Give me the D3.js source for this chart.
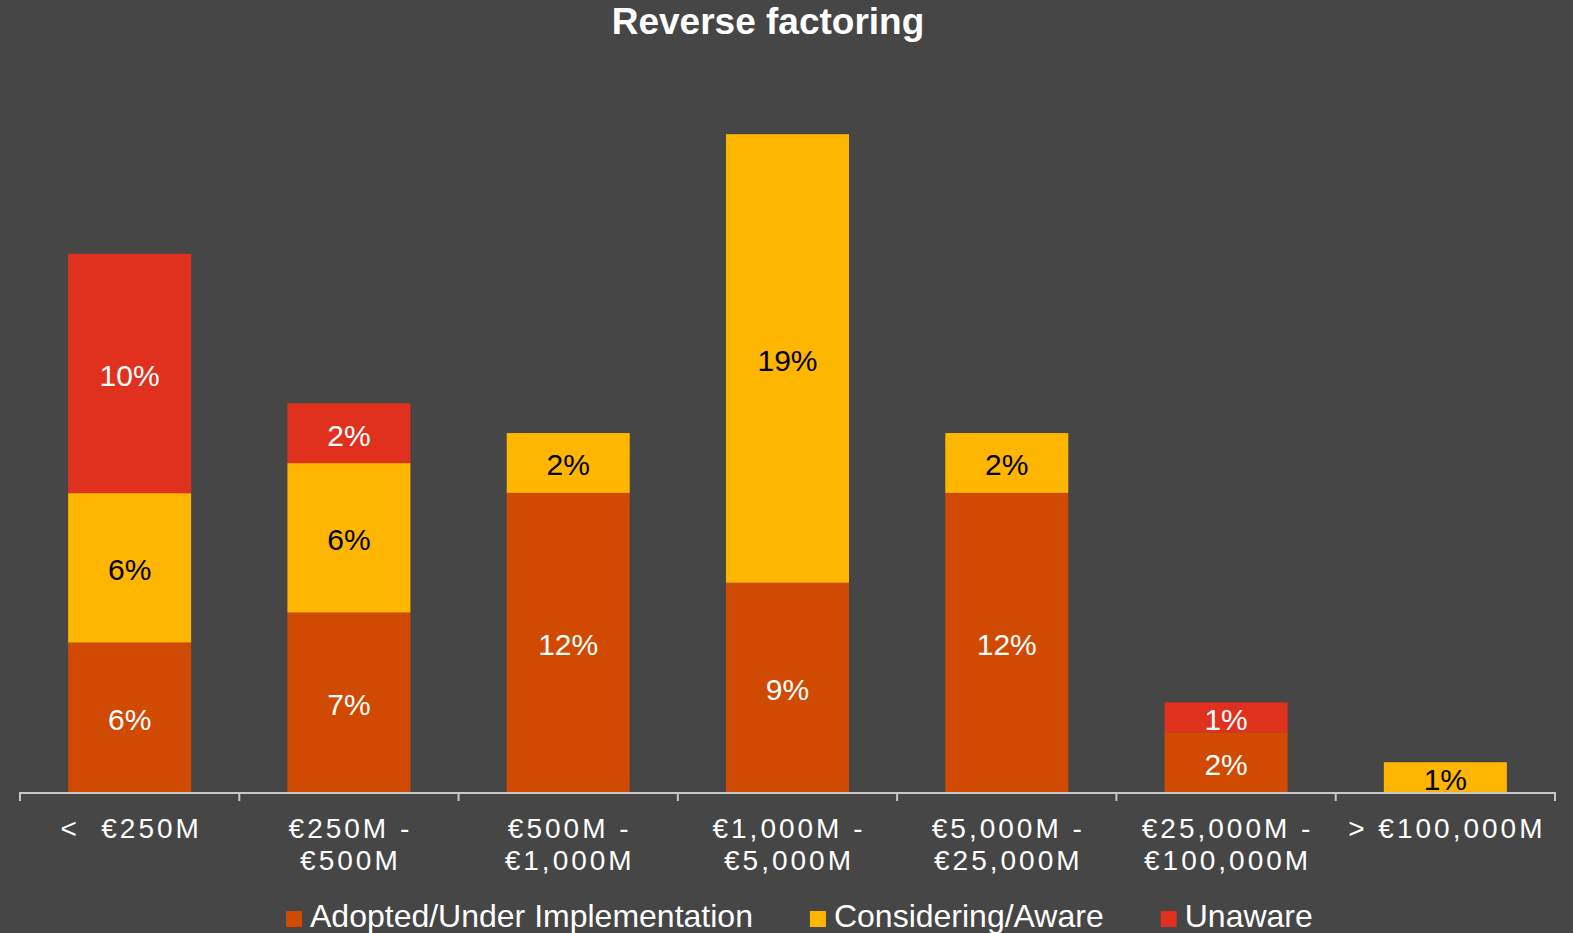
<!DOCTYPE html>
<html>
<head>
<meta charset="utf-8">
<script src="https://cdn.jsdelivr.net/npm/d3@7"></script>
<style>
  html, body { margin: 0; padding: 0; background: #464646; }
  svg { display: block; }
  text { font-family: "Liberation Sans", Arial, sans-serif; white-space: pre; }
</style>
</head>
<body>
<svg id="chart" width="1573" height="933"></svg>
<script>
// ---- Data (percent of respondents) ----
const categories = [
  ["<  €250M"],
  ["€250M -", "€500M"],
  ["€500M -", "€1,000M"],
  ["€1,000M -", "€5,000M"],
  ["€5,000M -", "€25,000M"],
  ["€25,000M -", "€100,000M"],
  ["> €100,000M"]
];
const seriesNames = ["Adopted/Under Implementation", "Considering/Aware", "Unaware"];
const adopted     = [6.17, 7.41, 12.35, 8.64, 12.35, 2.47, 0];
const considering = [6.17, 6.17, 2.47, 18.52, 2.47, 0, 1.23];
const unaware     = [9.88, 2.47, 0, 0, 0, 1.23, 0];
const seriesColors = ["#D04A02", "#FFB600", "#E0301E"];
const labelColors  = ["#FFFFFF", "#000000", "#FFFFFF"];
const title = "Reverse factoring";

// ---- Layout ----
const W = 1573, H = 933;
const axisY = 792, left = 20, right = 1555;
const svg = d3.select("#chart");
svg.append("rect").attr("width", W).attr("height", H).attr("fill", "#464646");

const keys = categories.map((c, i) => "c" + i);
const rows = keys.map((k, i) => ({ key: k, a: adopted[i], c: considering[i], u: unaware[i] }));
const stack = d3.stack().keys(["a", "c", "u"])(rows);

const x = d3.scaleBand().domain(keys).range([left, right]).paddingInner(0.439).paddingOuter(0.2195);
const xOuter = d3.scaleBand().domain(keys).range([left, right]).padding(0);
const y = d3.scaleLinear().domain([0, 30]).range([axisY, axisY - 24.22 * 30]);

// Title
svg.append("text").attr("x", 768).attr("y", 34).attr("text-anchor", "middle")
  .attr("fill", "#FFFFFF").attr("font-size", 37).attr("font-weight", "bold").text(title);

// Bars
const fmt = v => Math.round(v) + "%";
stack.forEach((layer, si) => {
  const g = svg.append("g");
  g.selectAll("rect").data(layer.filter(d => d[1] - d[0] > 0)).join("rect")
    .attr("x", d => x(d.data.key))
    .attr("width", x.bandwidth())
    .attr("y", d => y(d[1]))
    .attr("height", d => y(d[0]) - y(d[1]))
    .attr("fill", seriesColors[si]);
  g.selectAll("text").data(layer.filter(d => d[1] - d[0] > 0)).join("text")
    .attr("x", d => x(d.data.key) + x.bandwidth() / 2)
    .attr("y", d => (y(d[0]) + y(d[1])) / 2 + 12.5)
    .attr("text-anchor", "middle")
    .attr("font-size", 30)
    .attr("fill", labelColors[si])
    .text(d => fmt(d[1] - d[0]));
});

// Axis
const axisG = svg.append("g");
axisG.append("line").attr("x1", left).attr("x2", right).attr("y1", axisY + 1).attr("y2", axisY + 1)
  .attr("stroke", "#C8C8C8").attr("stroke-width", 2);
const tickXs = keys.map(k => xOuter(k)).concat([right]);
axisG.selectAll("line.tick").data(tickXs).join("line").attr("class", "tick")
  .attr("x1", d => d).attr("x2", d => d).attr("y1", axisY).attr("y2", axisY + 9)
  .attr("stroke", "#C8C8C8").attr("stroke-width", 2);

const catLabels = axisG.selectAll("text.cat").data(categories).join("text").attr("class", "cat")
  .attr("text-anchor", "middle").attr("fill", "#FFFFFF").attr("font-size", 28)
  .attr("letter-spacing", "3px").attr("xml:space", "preserve");
catLabels.each(function(lines, i) {
  const cx = xOuter(keys[i]) + xOuter.bandwidth() / 2 + 1.5;
  d3.select(this).selectAll("tspan").data(lines).join("tspan")
    .attr("x", cx).attr("y", (d, j) => 838 + j * 32).text(d => d);
});

// Legend
const legend = svg.append("g").attr("transform", "translate(286,927)");
let lx = 0;
seriesNames.forEach((name, i) => {
  const g = legend.append("g").attr("transform", `translate(${lx},0)`);
  g.append("rect").attr("x", 0).attr("y", -16).attr("width", 16).attr("height", 16).attr("fill", seriesColors[i]);
  const t = g.append("text").attr("x", 24).attr("y", 0).attr("fill", "#FFFFFF").attr("font-size", 32).text(name);
  lx += 24 + t.node().getComputedTextLength() + 57;
});
</script>
</body>
</html>
